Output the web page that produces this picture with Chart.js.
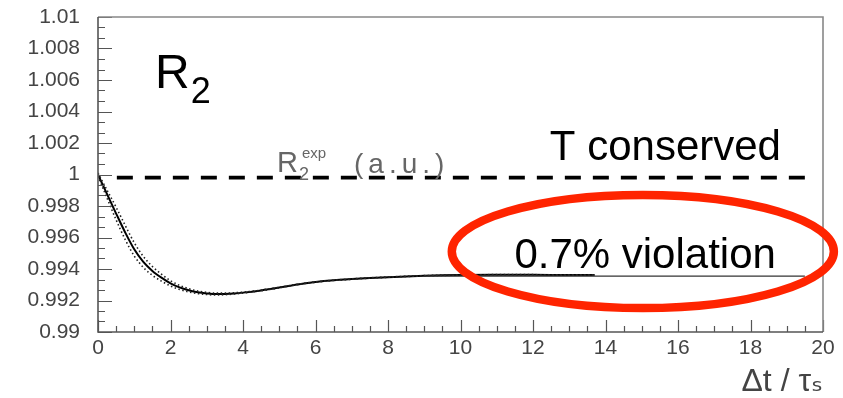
<!DOCTYPE html>
<html><head><meta charset="utf-8">
<script src="https://cdn.jsdelivr.net/npm/chart.js@4.4.0/dist/chart.umd.min.js"></script>
<style>html,body{margin:0;padding:0;background:#fff}#wrap{width:843px;height:398px}</style>
</head><body><div id="wrap"><canvas id="c" width="843" height="398"></canvas></div>
<script>
// ---- data ----
const dtValues = [0, 0.25, 0.5, 0.75, 1, 1.25, 1.5, 1.75, 2, 2.25, 2.5, 2.75, 3, 3.25, 3.5, 3.75, 4, 4.5, 5, 5.5, 6, 6.5, 7, 7.5, 8, 8.5, 9, 9.5, 10, 11, 12, 13, 13.7];
const r2Values = [1.0, 0.99875, 0.99752, 0.99632, 0.99525, 0.99445, 0.99388, 0.99345, 0.99309, 0.99283, 0.99265, 0.99252, 0.99245, 0.99241, 0.99242, 0.99245, 0.9925, 0.99264, 0.99282, 0.99302, 0.99317, 0.99328, 0.99336, 0.99343, 0.99348, 0.99353, 0.99357, 0.9936, 0.99362, 0.99363, 0.99363, 0.99362, 0.99362];
const bandUpper = [1.0001, 0.999, 0.99792, 0.99677, 0.99567, 0.9948, 0.99416, 0.99367, 0.99326, 0.99296, 0.99275, 0.9926, 0.99252, 0.99247, 0.99247, 0.99249, 0.99253, 0.99266, 0.99284, 0.99303, 0.99318, 0.99329, 0.99337, 0.99344, 0.99349, 0.99354, 0.99358, 0.99361, 0.99363, 0.99364, 0.99364, 0.99363, 0.99363];
const bandLower = [0.9999, 0.9985, 0.99712, 0.99587, 0.99483, 0.9941, 0.9936, 0.99323, 0.99292, 0.9927, 0.99255, 0.99244, 0.99238, 0.99235, 0.99237, 0.99241, 0.99247, 0.99262, 0.9928, 0.99301, 0.99316, 0.99327, 0.99335, 0.99342, 0.99347, 0.99352, 0.99356, 0.99359, 0.99361, 0.99362, 0.99362, 0.99361, 0.99361];
const refLineX = [0.52, 19.6];
const refLineY = [0.9998, 0.9998];
const asymLineX = [9, 19.5];
const asymLineY = [0.99355, 0.99355];
const xTickLabels = ['0','2','4','6','8','10','12','14','16','18','20'];
const yTickLabels = ['0.99','0.992','0.994','0.996','0.998','1','1.002','1.004','1.006','1.008','1.01'];

const pts = (xs, ys) => xs.map((x, i) => ({x: x, y: ys[i]}));
const FONT = '"Liberation Sans", Arial, "DejaVu Sans", sans-serif';

const decor = {
  id: 'decor',
  afterDatasetsDraw(chart) {
    const ctx = chart.ctx, xs = chart.scales.x, ys = chart.scales.y, a = chart.chartArea;
    const X = v => xs.getPixelForValue(v), Y = v => ys.getPixelForValue(v);
    ctx.save();
    // inner ticks
    ctx.strokeStyle = '#555'; ctx.lineWidth = 1.2;
    ctx.beginPath();
    for (let i = 0; i <= 30; i++) {
      const y = Math.round(Y(0.99 + i * 0.002 / 3)) + 0.5;
      const len = (i % 3 === 0) ? 14 : 7;
      ctx.moveTo(a.left, y); ctx.lineTo(a.left + len, y);
    }
    for (let i = 0; i <= 40; i++) {
      const x = Math.round(X(i * 0.5)) + 0.5;
      const len = (i % 4 === 0) ? 12 : 6;
      ctx.moveTo(x, a.bottom); ctx.lineTo(x, a.bottom - len);
    }
    ctx.stroke();
    // frame
    ctx.strokeStyle = '#888'; ctx.lineWidth = 1.6;
    ctx.beginPath();
    ctx.moveTo(a.left, a.top); ctx.lineTo(a.right, a.top); ctx.lineTo(a.right, a.bottom);
    ctx.stroke();
    ctx.strokeStyle = '#555';
    ctx.beginPath();
    ctx.moveTo(a.left, a.top); ctx.lineTo(a.left, a.bottom); ctx.lineTo(a.right, a.bottom);
    ctx.stroke();

    // R2 label
    ctx.fillStyle = '#000'; ctx.textBaseline = 'alphabetic'; ctx.textAlign = 'left';
    ctx.font = '48px ' + FONT;
    const rx = X(1.572), ry = Y(1.005492);
    ctx.fillText('R', rx, ry);
    const rw = ctx.measureText('R').width;
    ctx.font = '36px ' + FONT;
    ctx.fillText('2', rx + rw + 1, ry + 15);

    // T conserved / violation
    ctx.font = '42px ' + FONT; ctx.textAlign = 'right';
    ctx.fillText('T conserved', X(18.84), Y(1.00092));
    ctx.fillText('0.7% violation', X(18.70), Y(0.994063));

    // R2exp (a.u.)
    ctx.fillStyle = '#666'; ctx.textAlign = 'left';
    const ex = X(4.94), ey = Y(1.000159);
    ctx.font = '29px ' + FONT;
    ctx.fillText('R', ex, ey);
    const ew = ctx.measureText('R').width;
    ctx.font = '18px ' + FONT;
    ctx.fillText('2', ex + ew + 1, ey + 8);
    ctx.font = '15px ' + FONT;
    ctx.fillText('exp', ex + ew + 4, ey - 14);
    ctx.font = '28px ' + FONT;
    ctx.letterSpacing = '5px';
    ctx.fillText('(a.u.)', ex + ew + 56, ey + 1);
    ctx.letterSpacing = '0px';

    // red ellipse
    const cx = X(15.03), cy = Y(0.99511);
    const erx = X(15.03 + 5.27) - cx, ery = Y(0.99511 - 0.00359) - cy;
    ctx.strokeStyle = 'rgb(255,36,0)'; ctx.lineWidth = 8.5;
    ctx.beginPath();
    ctx.ellipse(cx, cy, erx, ery, 0, 0, Math.PI * 2);
    ctx.stroke();
    ctx.restore();
  }
};

new Chart(document.getElementById('c'), {
  type: 'line',
  data: {
    datasets: [
      {data: pts(refLineX, refLineY), borderColor: '#000', borderWidth: 3.6, borderDash: [16, 12], pointRadius: 0, tension: 0},
      {data: pts(asymLineX, asymLineY), borderColor: '#333', borderWidth: 1.2, pointRadius: 0, tension: 0},
      {data: pts(dtValues, bandUpper), borderColor: '#222', borderWidth: 1.6, borderDash: [1.5, 2.5], pointRadius: 0, cubicInterpolationMode: 'monotone'},
      {data: pts(dtValues, bandLower), borderColor: '#222', borderWidth: 1.6, borderDash: [1.5, 2.5], pointRadius: 0, cubicInterpolationMode: 'monotone'},
      {data: pts(dtValues, r2Values), borderColor: '#000', borderWidth: 2, pointRadius: 0, cubicInterpolationMode: 'monotone'}
    ]
  },
  options: {
    responsive: false, animation: false, devicePixelRatio: 1,
    layout: {padding: {top: 17, right: 20, left: 0, bottom: 0}},
    plugins: {legend: {display: false}, tooltip: {enabled: false}},
    scales: {
      x: {
        type: 'linear', min: 0, max: 20,
        afterFit: s => { s.height = 66; s.paddingLeft = 0; s.paddingRight = 0; },
        afterBuildTicks: s => { s.ticks = xTickLabels.map(t => ({value: Number(t)})); },
        ticks: {callback: (v, i) => xTickLabels[i], color: '#444', font: {size: 21, family: FONT}, padding: 4, maxRotation: 0, autoSkip: false},
        grid: {display: false, drawTicks: false},
        border: {display: false},
        title: {display: true, text: 'Δt / τₛ', align: 'end', color: '#444', font: {size: 32, family: FONT}, padding: {top: 0, bottom: -3}}
      },
      y: {
        min: 0.99, max: 1.01,
        afterFit: s => { s.width = 98; s.paddingTop = 0; s.paddingBottom = 0; },
        afterBuildTicks: s => { s.ticks = yTickLabels.map(t => ({value: Number(t)})); },
        ticks: {callback: (v, i) => yTickLabels[i], color: '#444', font: {size: 21, family: FONT}, padding: 18, autoSkip: false},
        grid: {display: false, drawTicks: false},
        border: {display: false}
      }
    }
  },
  plugins: [decor]
});
</script></body></html>
